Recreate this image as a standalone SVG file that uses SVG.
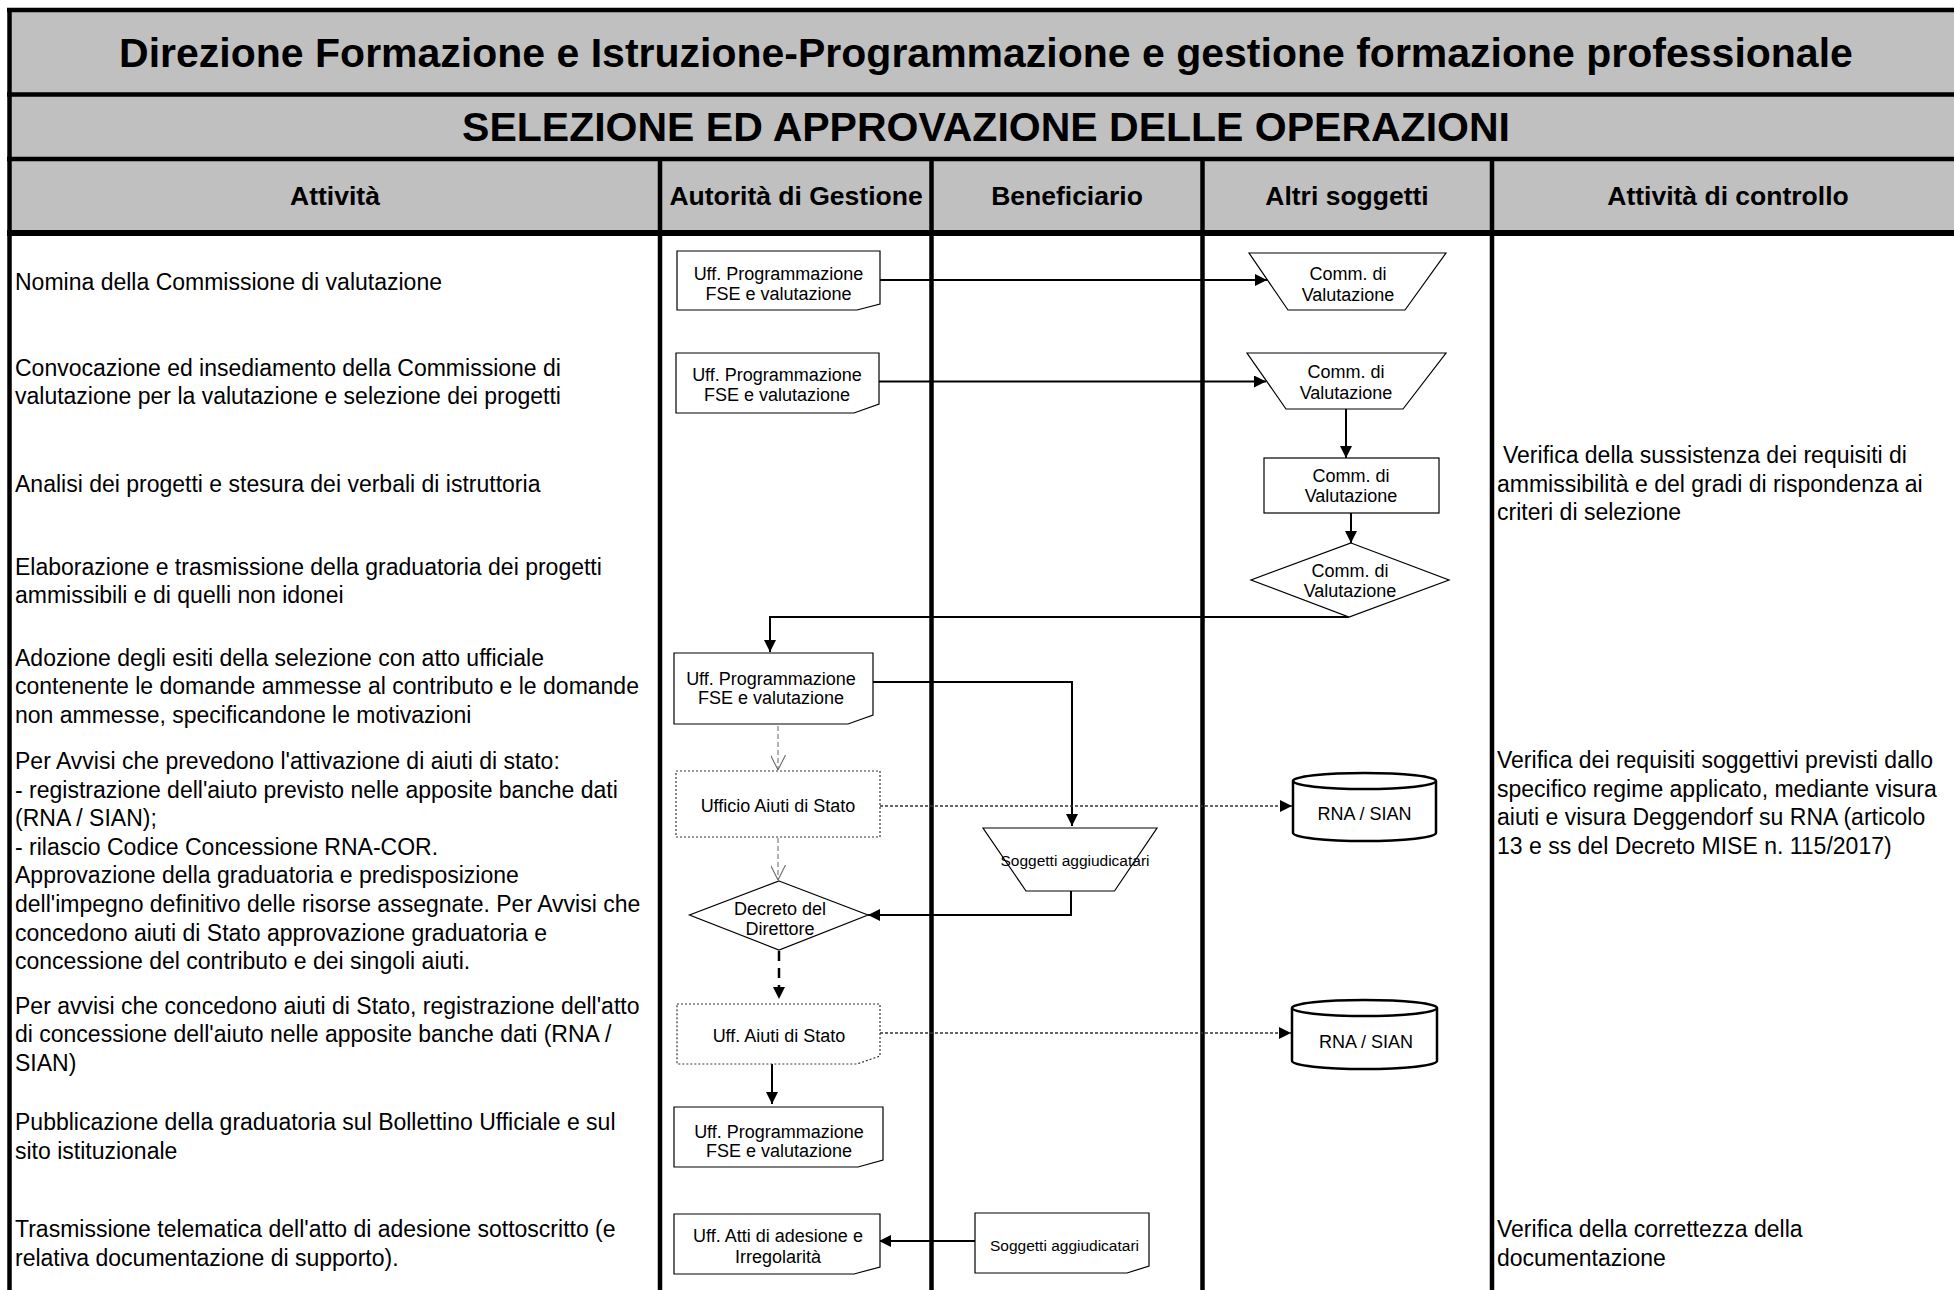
<svg xmlns="http://www.w3.org/2000/svg" width="1954" height="1290" viewBox="0 0 1954 1290">
<style>
text{font-family:"Liberation Sans",Arial,sans-serif;fill:#000}
.t1{font-size:41px;font-weight:bold;text-anchor:middle}
.th{font-size:26.5px;font-weight:bold;text-anchor:middle}
.body{font-size:23px}
.lbl{font-size:18px;text-anchor:middle}
.sm{font-size:15.5px;text-anchor:middle}
.grid{stroke:#000;stroke-width:4.5;fill:none}
.node{fill:#fff;stroke:#000;stroke-width:1.2}
.dot{fill:#fff;stroke:#333;stroke-width:1.2;stroke-dasharray:2 2}
.cyl{fill:#fff;stroke:#000;stroke-width:2.5}
.c{fill:none;stroke:#000;stroke-width:2}
.cdash{fill:none;stroke:#666;stroke-width:1;stroke-dasharray:5 3}
.cdot{fill:none;stroke:#333;stroke-width:1.5;stroke-dasharray:3 2}
.cthick{fill:none;stroke:#000;stroke-width:2.5;stroke-dasharray:10 7}
</style>
<defs>
<marker id="arr" viewBox="0 0 10 10" refX="10" refY="5" markerWidth="14" markerHeight="12" markerUnits="userSpaceOnUse" orient="auto"><path d="M0,0 L10,5 L0,10 z" fill="#000"/></marker>
<marker id="open" viewBox="0 0 10 10" refX="10" refY="5" markerWidth="15" markerHeight="15" markerUnits="userSpaceOnUse" orient="auto"><path d="M0,0 L10,5 L0,10" fill="none" stroke="#666" stroke-width="0.7"/></marker>
</defs>
<rect x="0" y="0" width="1954" height="1290" fill="#fff"/>
<g id="table">
<rect x="9.5" y="10" width="1960" height="223" fill="#c0c0c0"/>
<line class="grid" x1="7" y1="10" x2="1954" y2="10"/>
<line class="grid" x1="7" y1="94.5" x2="1954" y2="94.5"/>
<line class="grid" x1="7" y1="159" x2="1954" y2="159"/>
<line class="grid" x1="7" y1="233" x2="1954" y2="233" style="stroke-width:6"/>
<line class="grid" x1="9.5" y1="8" x2="9.5" y2="1290"/>
<line class="grid" x1="660" y1="159" x2="660" y2="1290"/>
<line class="grid" x1="931.5" y1="159" x2="931.5" y2="1290"/>
<line class="grid" x1="1202.5" y1="159" x2="1202.5" y2="1290"/>
<line class="grid" x1="1492" y1="159" x2="1492" y2="1290"/>
<text class="t1" x="986" y="67">Direzione Formazione e Istruzione-Programmazione e gestione formazione professionale</text>
<text class="t1" x="986" y="141">SELEZIONE ED APPROVAZIONE DELLE OPERAZIONI</text>
<text class="th" x="335" y="205">Attività</text>
<text class="th" x="796" y="205">Autorità di Gestione</text>
<text class="th" x="1067" y="205">Beneficiario</text>
<text class="th" x="1347" y="205">Altri soggetti</text>
<text class="th" x="1728" y="205">Attività di controllo</text>
</g>
<g id="activities" class="body">
<text class="body" x="15" y="290">Nomina della Commissione di valutazione</text>
<text class="body" x="15" y="376">Convocazione ed insediamento della Commissione di<tspan x="15" y="404">valutazione per la valutazione e selezione dei progetti</tspan></text>
<text class="body" x="15" y="491.5">Analisi dei progetti e stesura dei verbali di istruttoria</text>
<text class="body" x="15" y="575">Elaborazione e trasmissione della graduatoria dei progetti<tspan x="15" y="603">ammissibili e di quelli non idonei</tspan></text>
<text class="body" x="15" y="666">Adozione degli esiti della selezione con atto ufficiale<tspan x="15" y="694">contenente le domande ammesse al contributo e le domande</tspan><tspan x="15" y="722.5">non ammesse, specificandone le motivazioni</tspan></text>
<text class="body" x="15" y="769">Per Avvisi che prevedono l'attivazione di aiuti di stato:<tspan x="15" y="797.6">- registrazione dell'aiuto previsto nelle apposite banche dati</tspan><tspan x="15" y="826.2">(RNA / SIAN);</tspan><tspan x="15" y="854.8">- rilascio Codice Concessione RNA-COR.</tspan><tspan x="15" y="883.4">Approvazione della graduatoria e predisposizione</tspan><tspan x="15" y="912">dell'impegno definitivo delle risorse assegnate. Per Avvisi che</tspan><tspan x="15" y="940.6">concedono aiuti di Stato approvazione graduatoria e</tspan><tspan x="15" y="969.2">concessione del contributo e dei singoli aiuti.</tspan></text>
<text class="body" x="15" y="1013.5">Per avvisi che concedono aiuti di Stato, registrazione dell'atto<tspan x="15" y="1042">di concessione dell'aiuto nelle apposite banche dati (RNA /</tspan><tspan x="15" y="1070.5">SIAN)</tspan></text>
<text class="body" x="15" y="1130">Pubblicazione della graduatoria sul Bollettino Ufficiale e sul<tspan x="15" y="1158.5">sito istituzionale</tspan></text>
<text class="body" x="15" y="1237">Trasmissione telematica dell'atto di adesione sottoscritto (e<tspan x="15" y="1265.5">relativa documentazione di supporto).</tspan></text>
</g>
<g id="controls">
<text class="body" x="1503" y="463">Verifica della sussistenza dei requisiti di<tspan x="1497" y="491.5">ammissibilità e del gradi di rispondenza ai</tspan><tspan x="1497" y="520">criteri di selezione</tspan></text>
<text class="body" x="1497" y="768">Verifica dei requisiti soggettivi previsti dallo<tspan x="1497" y="796.5">specifico regime applicato, mediante visura</tspan><tspan x="1497" y="825">aiuti e visura Deggendorf su RNA (articolo</tspan><tspan x="1497" y="853.5">13 e ss del Decreto MISE n. 115/2017)</tspan></text>
<text class="body" x="1497" y="1237">Verifica della correttezza della<tspan x="1497" y="1265.5">documentazione</tspan></text>
</g>
<g id="connectors">
<path class="c" d="M880,280 L1267,280" marker-end="url(#arr)"/>
<path class="c" d="M879,381.5 L1266,381.5" marker-end="url(#arr)"/>
<path class="c" d="M1346,409 L1346,458" marker-end="url(#arr)"/>
<path class="c" d="M1351,513 L1351,543" marker-end="url(#arr)"/>
<path class="c" d="M1349,617 L770,617 L770,652" marker-end="url(#arr)"/>
<path class="c" d="M873,682 L1072,682 L1072,826" marker-end="url(#arr)"/>
<path class="cdash" d="M778,726 L778,770" marker-end="url(#open)"/>
<path class="cdot" d="M880,806 L1292,806" marker-end="url(#arr)"/>
<path class="cdash" d="M778,838 L778,880" marker-end="url(#open)"/>
<path class="c" d="M1071,891 L1071,915 L868,915" marker-end="url(#arr)"/>
<path class="cthick" d="M779,951 L779,999" marker-end="url(#arr)"/>
<path class="cdot" d="M880,1033 L1291,1033" marker-end="url(#arr)"/>
<path class="c" d="M772,1064 L772,1104" marker-end="url(#arr)"/>
<path class="c" d="M975,1241 L879,1241" marker-end="url(#arr)"/>
</g>
<g id="n1"><polygon class="node" points="677,251 880,251 880,304 857,310 677,310"/><text class="lbl" x="778.5" y="280">Uff. Programmazione</text><text class="lbl" x="778.5" y="300">FSE e valutazione</text></g>
<g id="n2"><polygon class="node" points="676,353 879,353 879,404 854,413 676,413"/><text class="lbl" x="777" y="380.5">Uff. Programmazione</text><text class="lbl" x="777" y="400.5">FSE e valutazione</text></g>
<g id="c1"><polygon class="node" points="1249,253 1446,253 1405,310 1288,310"/><text class="lbl" x="1348" y="279.5">Comm. di</text><text class="lbl" x="1348" y="300.5">Valutazione</text></g>
<g id="c2"><polygon class="node" points="1247,353 1446,353 1403,409 1286,409"/><text class="lbl" x="1346" y="378">Comm. di</text><text class="lbl" x="1346" y="398.5">Valutazione</text></g>
<g id="c3"><rect class="node" x="1264" y="458" width="175" height="55"/><text class="lbl" x="1351" y="481.5">Comm. di</text><text class="lbl" x="1351" y="502">Valutazione</text></g>
<g id="c4"><polygon class="node" points="1351,543 1449,580 1349,617 1251,580"/><text class="lbl" x="1350" y="577">Comm. di</text><text class="lbl" x="1350" y="597">Valutazione</text></g>
<g id="n5"><polygon class="node" points="674,653 873,653 873,715 848,724 674,724"/><text class="lbl" x="771" y="685">Uff. Programmazione</text><text class="lbl" x="771" y="704">FSE e valutazione</text></g>
<g id="b6"><rect class="dot" x="676" y="771" width="204" height="66"/><text class="lbl" x="778" y="811.5">Ufficio Aiuti di Stato</text></g>
<g id="db1"><path class="cyl" d="M1293,781 L1293,833 A71.5,8 0 0 0 1436,833 L1436,781"/><ellipse class="cyl" cx="1364.5" cy="781" rx="71.5" ry="8"/><text class="lbl" x="1364.5" y="819.5">RNA / SIAN</text></g>
<g id="s1"><polygon class="node" points="983,828 1157,828 1114.5,891 1026,891"/><text class="sm" x="1075" y="865.5">Soggetti aggiudicatari</text></g>
<g id="d7"><polygon class="node" points="779,881 868,915 779,950 689.5,915"/><text class="lbl" x="780" y="914.5">Decreto del</text><text class="lbl" x="780" y="934.5">Direttore</text></g>
<g id="b8"><polygon class="dot" points="677,1004 880,1004 880,1056 857,1064 677,1064"/><text class="lbl" x="779" y="1041.5">Uff. Aiuti di Stato</text></g>
<g id="db2"><path class="cyl" d="M1292,1008 L1292,1061 A72.5,8 0 0 0 1437,1061 L1437,1008"/><ellipse class="cyl" cx="1364.5" cy="1008" rx="72.5" ry="8"/><text class="lbl" x="1366" y="1048">RNA / SIAN</text></g>
<g id="n9"><polygon class="node" points="674,1107 883,1107 883,1160 858,1167 674,1167"/><text class="lbl" x="779" y="1137.5">Uff. Programmazione</text><text class="lbl" x="779" y="1156.5">FSE e valutazione</text></g>
<g id="n10"><polygon class="node" points="674,1214 880,1214 880,1267 854,1274 674,1274"/><text class="lbl" x="778" y="1241.5">Uff. Atti di adesione e</text><text class="lbl" x="778" y="1262.5">Irregolarità</text></g>
<g id="n11"><polygon class="node" points="975,1213 1149,1213 1149,1266 1127,1273 975,1273"/><text class="sm" x="1064.5" y="1250.5">Soggetti aggiudicatari</text></g>
</svg>
